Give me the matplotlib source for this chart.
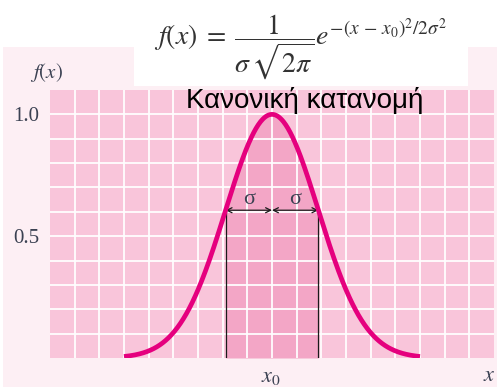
import matplotlib.pyplot as plt
import numpy as np
from matplotlib.patches import Rectangle

plt.rcParams['mathtext.fontset'] = 'stix'

# Normal curve parameters, in grid units
x0 = 9.0
sigma = 1.88
peak = 1.0
x_start, x_end = 3.0, 15.0

# Axis range and labelled ticks
x_cells = 18
y_top = 1.1
ytick_values = [0.5, 1.0]
ytick_labels = ['0.5', '1.0']

title = 'Κανονική κατανομή'
formula = r'$f(x)\;=\;\dfrac{1}{\sigma\,\sqrt{2\pi}}e^{-(x\,-\,x_0)^2/2\sigma^2}$'

outer_bg = '#fdeff4'
cell_color = '#f9c5da'
band_color = '#f3a6c6'
curve_color = '#e5007e'
label_color = '#3b4152'

W, H = 497, 387
fig = plt.figure(figsize=(W / 100, H / 100), dpi=100)

# background panels (pixel coords measured from top-left)
def px_rect(x1, y1, x2, y2, color, z):
    fig.patches.append(Rectangle((x1 / W, 1 - y2 / H), (x2 - x1) / W, (y2 - y1) / H,
                                 transform=fig.transFigure, color=color,
                                 zorder=z, lw=0))

px_rect(3, 47, W, H, outer_bg, 0)
px_rect(134, 0, 468, 86, 'white', 1)

ax = fig.add_axes([50 / W, 1 - 358 / H, 444 / W, 268 / H])
ax.set_zorder(2)
ax.set_facecolor(cell_color)
ax.set_xlim(0, x_cells)
ax.set_ylim(0, y_top)
for s in ax.spines.values():
    s.set_visible(False)

xs = np.linspace(x_start, x_end, 400)
ys = peak * np.exp(-(xs - x0) ** 2 / (2 * sigma ** 2))

# darker band between x0 - sigma and x0 + sigma
band = (xs >= x0 - sigma) & (xs <= x0 + sigma)
ax.fill_between(xs[band], 0, ys[band], color=band_color, lw=0, zorder=1)

# white grid
for gx in range(1, x_cells):
    ax.axvline(gx, color='white', lw=1.4, alpha=0.9, zorder=2)
for gy in np.arange(0.1, y_top - 0.05, 0.1):
    ax.axhline(gy, color='white', lw=1.4, alpha=0.9, zorder=2)

ax.plot(xs, ys, color=curve_color, lw=3.4, solid_capstyle='butt', zorder=5)

# sigma markers
fs = peak * np.exp(-0.5)
for xv in (x0 - sigma, x0 + sigma):
    ax.plot([xv, xv], [0, fs], color='#1a1a1a', lw=0.9, zorder=4)
for a, b in ((x0 - sigma, x0), (x0, x0 + sigma)):
    ax.annotate('', xy=(a, fs), xytext=(b, fs),
                arrowprops=dict(arrowstyle='<->', color='#1a1a1a', lw=0.9,
                                shrinkA=0, shrinkB=0, mutation_scale=9), zorder=4)
    ax.text((a + b) / 2, fs + 0.005, 'σ', ha='center', va='bottom',
            fontsize=16, family='Liberation Serif', color=label_color, zorder=6)

ax.set_xticks([])
ax.set_yticks(ytick_values)
ax.set_yticklabels(ytick_labels, family='Liberation Serif', fontsize=15,
                   color=label_color)
ax.tick_params(axis='y', length=0, pad=8)

fig.text(46 / W, 1 - 73 / H, r'$f(x)$', ha='center', va='center', fontsize=15,
         color=label_color, zorder=6)
fig.text(271 / W, 1 - 377 / H, r'$x_0$', ha='center', va='center', fontsize=16,
         color=label_color, zorder=6)
fig.text(483 / W, 1 - 375 / H, r'$x$', ha='left', va='center', fontsize=16,
         color=label_color, zorder=6)
fig.text(301 / W, 1 - 47 / H, formula, ha='center', va='center', fontsize=20,
         color='#333333', zorder=6)
fig.text(305 / W, 1 - 101 / H, title, ha='center', va='center', fontsize=20,
         family='Liberation Sans', color='black', zorder=7)

fig.savefig('out.png', dpi=100)
